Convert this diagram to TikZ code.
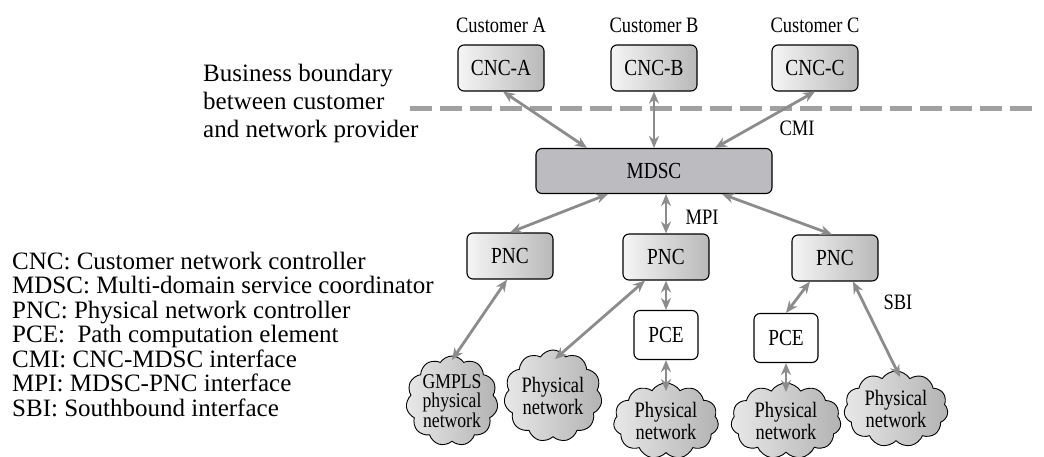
\documentclass[tikz,border=0pt]{standalone}
\usepackage{fontspec}
\setmainfont{Liberation Serif}
\newfontfamily\condfont[FakeStretch=0.84]{Liberation Serif}
\usetikzlibrary{arrows.meta,shapes.symbols}
\definecolor{linkgray}{RGB}{140,140,140}
\definecolor{dashgray}{RGB}{160,160,160}
\definecolor{mdscgray}{RGB}{188,188,192}
\tikzset{
  lbl/.style={font=\condfont\fontsize{22}{22}\selectfont, inner sep=0pt},
  txt/.style={font=\fontsize{25}{24.5}\selectfont, inner sep=0pt, align=left},
  ctrl/.style={draw=black, line width=1.1pt, rounded corners=6pt,
    left color=gray!8, right color=gray!55,
    minimum width=86pt, minimum height=46pt, inner sep=0pt,
    font=\condfont\fontsize{23}{22}\selectfont},
  pcebox/.style={draw=black, line width=1.1pt, rounded corners=6pt, fill=white,
    minimum width=64pt, minimum height=49pt, inner sep=0pt,
    font=\condfont\fontsize{23}{22}\selectfont},
  net/.style={cloud, cloud puffs=11, cloud puff arc=115, cloud ignores aspect,
    draw=black, line width=0.9pt,
    left color=gray!18, right color=gray!60, inner sep=0pt},
  nettxt/.style={inner sep=0pt, align=center,
    font=\condfont\fontsize{22}{22}\selectfont},
  conn/.style={draw=linkgray, line width=2.8pt,
    {Stealth[length=12pt,width=10pt]}-{Stealth[length=12pt,width=10pt]}},
}
\begin{document}
\begin{tikzpicture}[x=1pt,y=-1pt]
\useasboundingbox (0,0) rectangle (1044,456);

% business boundary
\coordinate (bl) at (410,108);
\coordinate (br) at (1032,108);
\draw[dashgray, line width=5pt, dash pattern=on 22pt off 8pt] (bl) -- (br);
\node[txt, anchor=west, font=\fontsize{25}{28}\selectfont] (bb) at (203,103)
  {Business boundary\\between customer\\and network provider};

% customers
\node[lbl] (custA) at (501,25) {Customer A};
\node[lbl] (custB) at (654,25) {Customer B};
\node[lbl] (custC) at (815,25) {Customer C};
\node[ctrl] (cncA) at (501,68) {CNC-A};
\node[ctrl] (cncB) at (654,68) {CNC-B};
\node[ctrl] (cncC) at (815,68) {CNC-C};

% coordinator
\node[draw=black, line width=1.1pt, rounded corners=6pt, fill=mdscgray,
  minimum width=236pt, minimum height=45pt, inner sep=0pt,
  font=\condfont\fontsize{23}{22}\selectfont] (mdsc) at (654,171) {MDSC};

% physical network controllers
\node[ctrl] (pnc1) at (510,256) {PNC};
\node[ctrl] (pnc2) at (666,257) {PNC};
\node[ctrl] (pnc3) at (835,258) {PNC};
\node[pcebox] (pce1) at (666,335) {PCE};
\node[pcebox] (pce2) at (786,338) {PCE};

% networks: cloud outlines, then their captions on top
\node[net, minimum width=92pt, minimum height=90pt] (n1) at (452,401) {};
\node[net, minimum width=98pt, minimum height=92pt] (n2) at (553,396) {};
\node[net, minimum width=105pt, minimum height=76pt] (n3) at (666,421) {};
\node[net, minimum width=110pt, minimum height=76pt] (n4) at (786,421) {};
\node[net, minimum width=104pt, minimum height=76pt] (n5) at (896,409) {};
\node[nettxt, font=\condfont\fontsize{21}{19}\selectfont] (n1t) at (n1) {GMPLS\\physical\\network};
\node[nettxt] (n2t) at (n2) {Physical\\network};
\node[nettxt] (n3t) at (n3) {Physical\\network};
\node[nettxt] (n4t) at (n4) {Physical\\network};
\node[nettxt] (n5t) at (n5) {Physical\\network};

% interface labels
\node[lbl] (cmi) at (797,128) {CMI};
\node[lbl] (mpi) at (702,217) {MPI};
\node[lbl] (sbi) at (898,302) {SBI};

% connectors (canvas yshift is upward)
\draw[conn] ([xshift=2pt]cncA.south) -- ([xshift=-67pt]mdsc.north);
\draw[conn] (cncB.south) -- (mdsc.north);
\draw[conn] (cncC.south) -- ([xshift=61pt]mdsc.north);
\draw[conn] ([xshift=-46pt]mdsc.south) -- (pnc1.north);
\draw[conn] ([xshift=12pt]mdsc.south) -- (pnc2.north);
\draw[conn] ([xshift=68pt]mdsc.south) -- ([xshift=-3pt]pnc3.north);
\draw[conn] ([xshift=-3pt]pnc1.south) -- ([yshift=41pt]n1.center);
\draw[conn] ([xshift=-21pt]pnc2.south) -- ([xshift=2pt,yshift=37pt]n2.center);
\draw[conn] (pnc2.south) -- (pce1.north);
\draw[conn] (pce1.south) -- ([yshift=30pt]n3.center);
\draw[conn] ([xshift=-25pt]pnc3.south) -- (pce2.north);
\draw[conn] (pce2.south) -- ([yshift=29pt]n4.center);
\draw[conn] ([xshift=18pt]pnc3.south) -- ([xshift=4pt,yshift=32pt]n5.center);

% legend
\node[txt, anchor=west] (legend) at (12,334)
  {CNC: Customer network controller\\
   MDSC: Multi-domain service coordinator\\
   PNC: Physical network controller\\
   PCE:\ \ Path computation element\\
   CMI: CNC-MDSC interface\\
   MPI: MDSC-PNC interface\\
   SBI: Southbound interface};
\end{tikzpicture}
\end{document}
